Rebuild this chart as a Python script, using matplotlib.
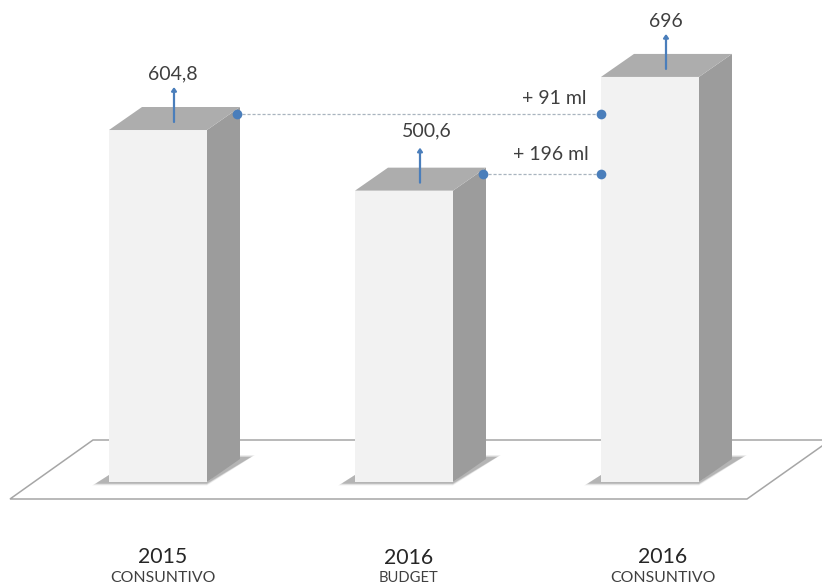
import matplotlib
matplotlib.use("Agg")
import matplotlib.pyplot as plt
from matplotlib.patches import Polygon

plt.rcParams['font.family'] = ['Lato', 'DejaVu Sans']

years = ["2015", "2016", "2016"]
kinds = ["CONSUNTIVO", "BUDGET", "CONSUNTIVO"]
values = [604.8, 500.6, 696]
value_labels = ["604,8", "500,6", "696"]
delta_labels = ["+ 91 ml", "+ 196 ml"]
delta_from = [0, 1]
positions = [0, 1, 2]

W, H = 822, 584
PX_X = 246.0      # pixels per category
PX_Y = 0.582      # pixels per value unit
X0, Y0 = 158.0, 482.0

fig = plt.figure(figsize=(W / 100, H / 100), dpi=100, facecolor="white")
ax = fig.add_axes([0, 0, 1, 1])
ax.set_xlim(-X0 / PX_X, (W - X0) / PX_X)
ax.set_ylim((Y0 - H) / PX_Y, Y0 / PX_Y)
ax.axis("off")

def dx(p):
    return p / PX_X
def dy(p):
    return p / PX_Y

BAR_W = dx(98)
DX, DY = dx(33), dy(23)

# floor
fx0, fx1 = dx(-148), dx(589)
bx0, bx1 = dx(-65), dx(664)
fy, by = dy(-17), dy(42)
ax.plot([bx1, bx0, fx0, fx1, fx1 + dx(75)], [by, by, fy, fy, fy + dy(53)],
        color="#a6a6a6", lw=1.1, solid_joinstyle="miter", zorder=1)

for p, v in zip(positions, values):
    l = p - BAR_W / 2
    r = p + BAR_W / 2
    # shadow, in soft layers
    for grow, a in zip([4, 2.5, 1.2, 0], [0.10, 0.15, 0.22, 0.30]):
        ax.add_patch(Polygon(
            [(l - dx(13 + grow), dy(-1.5 - grow / 2)), (r, dy(-1.5 - grow / 2)),
             (r + dx(44 + grow), dy(25 + grow / 2)), (r + DX, dy(25 + grow / 2)),
             (r, 0), (l, dy(7))],
            closed=True, fc="#808080", ec="none", alpha=a, zorder=2))
    # front face
    ax.bar(p, v, width=BAR_W, color="#f2f2f2", edgecolor="none", zorder=3)
    # side and top faces
    ax.add_patch(Polygon([(r, 0), (r + DX, DY), (r + DX, v + DY), (r, v)],
                         closed=True, fc="#9c9c9c", ec="none", zorder=3))
    ax.add_patch(Polygon([(l, v), (r, v), (r + DX, v + DY), (l + DX, v + DY)],
                         closed=True, fc="#adadad", ec="none", zorder=3))
    # arrow
    ax.annotate("", xy=(p + dx(16), v + dy(43)), xytext=(p + dx(16), v + dy(8)),
                arrowprops=dict(arrowstyle="-|>,head_width=0.14,head_length=0.2",
                                color="#4a7ebb", lw=1.6, shrinkA=0, shrinkB=0),
                zorder=5)

for p, v, t, o, oy in zip(positions, values, value_labels, [15, 23, 16], [56, 60, 55]):
    ax.text(p + dx(o), v + dy(oy), t, ha="center", va="center",
            fontsize=14, color="#3f3f3f", zorder=6)

# connectors
end = positions[2] - BAR_W / 2
for i, t, o, oy in zip(delta_from, delta_labels, [-14, -12], [15.5, 19.5]):
    v = values[i]
    y = v + dy(16.5)
    x0 = positions[i] + BAR_W / 2 + dx(30)
    ax.plot([x0, end], [y, y], color="#a9b4bf", lw=0.9, ls=(0, (2.5, 1.5)), zorder=4)
    ax.plot([x0, end], [y, y], ls="none", marker="o", ms=7, color="#4a7ebb",
            mec="none", zorder=6)
    ax.text(end + dx(o), y + dy(oy), t, ha="right", va="center",
            fontsize=14, color="#3f3f3f", zorder=6)

# category labels
for p, y, k, o, oy, ky, ks in zip(positions, years, kinds, [5, 5, 13], [75, 76, 75],
                                  [95.5, 96, 95.5], [11.4, 10.6, 11.4]):
    ax.text(p + dx(o), dy(-oy), y, ha="center", va="center",
            fontsize=15.3, color="#262626")
    ax.text(p + dx(o), dy(-ky), k, ha="center", va="center",
            fontsize=ks, color="#404040")

fig.savefig("out.png", dpi=100, facecolor="white")
